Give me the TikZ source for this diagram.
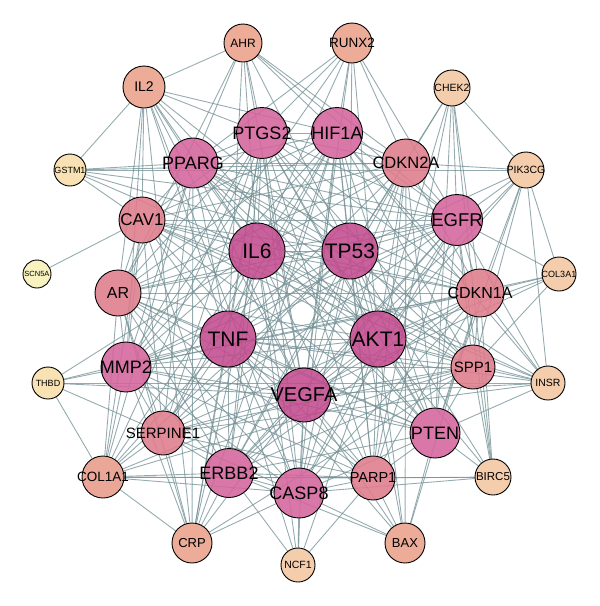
\documentclass[tikz,border=0pt]{standalone}
\usepackage{fontspec}
\setmainfont{Liberation Sans}
\usetikzlibrary{backgrounds}
\definecolor{degA}{HTML}{C24B8E}
\definecolor{degB}{HTML}{D4659C}
\definecolor{degC}{HTML}{DE7C8C}
\definecolor{degD}{HTML}{E9A08A}
\definecolor{degE}{HTML}{F3C6A2}
\definecolor{degF}{HTML}{F7DDA8}
\definecolor{degG}{HTML}{F7F0B7}
\definecolor{edgecol}{HTML}{728F94}
\begin{document}
\begin{tikzpicture}[x=1pt, y=-1pt,
  gene/.style={circle, draw=black, line width=0.9pt, inner sep=0pt, fill opacity=0.88},
  lvA/.style={gene, fill=degA, minimum size=56pt},
  lvB/.style={gene, fill=degB, minimum size=51pt},
  lvC/.style={gene, fill=degC, minimum size=46pt},
  lvD/.style={gene, fill=degD, minimum size=40pt},
  lvE/.style={gene, fill=degE, minimum size=35pt},
  lvF/.style={gene, fill=degF, minimum size=32pt},
  lbl/.style={font=\fontsize{#1}{#1}\selectfont, text=black, text opacity=1, fill opacity=1, inner sep=0pt},
  edge/.style={draw=edgecol, line width=0.9pt, opacity=0.75}]
  \useasboundingbox (0,0) rectangle (600,606);

  % inner ring
  \node[lvA, label={[lbl=21]center:IL6}] (IL6) at (257,251) {};
  \node[lvA, label={[lbl=21]center:TP53}] (TP53) at (350,251) {};
  \node[lvA, label={[lbl=21]center:TNF}] (TNF) at (228,339) {};
  \node[lvA, label={[lbl=21]center:AKT1}] (AKT1) at (378,339) {};
  \node[lvA, minimum size=54pt, label={[lbl=20]center:VEGFA}] (VEGFA) at (304,395) {};

  % middle ring
  \node[lvB, label={[lbl=18]center:PTGS2}] (PTGS2) at (262,133) {};
  \node[lvB, label={[lbl=18]center:HIF1A}] (HIF1A) at (337,133) {};
  \node[lvC, minimum size=48pt, label={[lbl=16.5]center:CDKN2A}] (CDKN2A) at (406,163) {};
  \node[lvB, label={[lbl=18.5]center:EGFR}] (EGFR) at (457,220) {};
  \node[lvC, minimum size=48pt, label={[lbl=16]center:CDKN1A}] (CDKN1A) at (480,293) {};
  \node[lvC, minimum size=44pt, label={[lbl=15]center:SPP1}] (SPP1) at (473,367) {};
  \node[lvB, minimum size=50pt, label={[lbl=18]center:PTEN}] (PTEN) at (435,433) {};
  \node[lvC, minimum size=44pt, label={[lbl=14.5]center:PARP1}] (PARP1) at (373,478) {};
  \node[lvB, minimum size=50pt, label={[lbl=18]center:CASP8}] (CASP8) at (299,493) {};
  \node[lvB, minimum size=49pt, label={[lbl=18]center:ERBB2}] (ERBB2) at (229,473) {};
  \node[lvC, minimum size=44pt, label={[lbl=15]center:SERPINE1}] (SERPINE1) at (163,433) {};
  \node[lvB, minimum size=50pt, label={[lbl=18]center:MMP2}] (MMP2) at (126,367) {};
  \node[lvC, label={[lbl=16]center:AR}] (AR) at (118,293) {};
  \node[lvC, label={[lbl=17]center:CAV1}] (CAV1) at (142,220) {};
  \node[lvB, minimum size=50pt, label={[lbl=18]center:PPARG}] (PPARG) at (193,163) {};

  % outer ring
  \node[lvD, minimum size=38pt, label={[lbl=12]center:AHR}] (AHR) at (243,43) {};
  \node[lvD, label={[lbl=13.5]center:RUNX2}] (RUNX2) at (352,43) {};
  \node[lvE, minimum size=36pt, label={[lbl=10.5]center:CHEK2}] (CHEK2) at (452,88) {};
  \node[lvE, minimum size=36pt, label={[lbl=10.5]center:PIK3CG}] (PIK3CG) at (526,170) {};
  \node[lvE, minimum size=34pt, label={[lbl=9]center:COL3A1}] (COL3A1) at (559,274) {};
  \node[lvE, minimum size=34pt, label={[lbl=10.5]center:INSR}] (INSR) at (548,383) {};
  \node[lvE, minimum size=36pt, label={[lbl=11.5]center:BIRC5}] (BIRC5) at (493,477) {};
  \node[lvD, label={[lbl=13]center:BAX}] (BAX) at (405,543) {};
  \node[lvE, minimum size=34pt, label={[lbl=10.5]center:NCF1}] (NCF1) at (298,565) {};
  \node[lvD, label={[lbl=13]center:CRP}] (CRP) at (192,543) {};
  \node[lvD, minimum size=42pt, fill=degD!85!degC, label={[lbl=13.5]center:COL1A1}] (COL1A1) at (103,477) {};
  \node[lvF, label={[lbl=9]center:THBD}] (THBD) at (48,383) {};
  \node[lvF, fill=degG, minimum size=28pt, label={[lbl=7.5]center:SCN5A}] (SCN5A) at (37,274) {};
  \node[lvF, label={[lbl=9]center:GSTM1}] (GSTM1) at (70,170) {};
  \node[lvD, minimum size=42pt, label={[lbl=14]center:IL2}] (IL2) at (144,87) {};

  \begin{pgfonlayer}{background}
    \foreach \t in {TP53,TNF,AKT1,VEGFA,PTGS2,HIF1A,PPARG,EGFR,MMP2,PTEN,ERBB2,CASP8,CDKN2A,CAV1,AR,CDKN1A,SPP1,SERPINE1,PARP1,IL2,AHR,RUNX2,COL1A1,CRP,GSTM1,THBD,INSR,NCF1}
      \draw[edge] (IL6) -- (\t);
    \foreach \t in {TNF,AKT1,VEGFA,PTGS2,HIF1A,PPARG,EGFR,MMP2,PTEN,ERBB2,CASP8,CDKN2A,CAV1,AR,CDKN1A,SPP1,SERPINE1,PARP1,IL2,AHR,RUNX2,BAX,CHEK2,BIRC5,PIK3CG,GSTM1,COL1A1}
      \draw[edge] (TP53) -- (\t);
    \foreach \t in {AKT1,VEGFA,PTGS2,HIF1A,PPARG,EGFR,MMP2,PTEN,ERBB2,CASP8,CDKN2A,CAV1,AR,CDKN1A,SPP1,SERPINE1,PARP1,IL2,AHR,COL1A1,CRP,NCF1,THBD,BAX,INSR}
      \draw[edge] (TNF) -- (\t);
    \foreach \t in {VEGFA,PTGS2,HIF1A,PPARG,EGFR,MMP2,PTEN,ERBB2,CASP8,CDKN2A,CAV1,AR,CDKN1A,SPP1,SERPINE1,PARP1,IL2,RUNX2,CHEK2,PIK3CG,INSR,BIRC5,BAX,NCF1,COL3A1}
      \draw[edge] (AKT1) -- (\t);
    \foreach \t in {PTGS2,HIF1A,PPARG,EGFR,MMP2,PTEN,ERBB2,CASP8,CDKN2A,CAV1,AR,CDKN1A,SPP1,SERPINE1,PARP1,IL2,AHR,RUNX2,COL1A1,CRP,NCF1,THBD,INSR,COL3A1,BAX,PIK3CG}
      \draw[edge] (VEGFA) -- (\t);
    \foreach \t in {HIF1A,PPARG,EGFR,MMP2,PTEN,ERBB2,CASP8,CDKN2A,CAV1,AR,CDKN1A,SPP1,SERPINE1,PARP1,IL2,AHR,RUNX2,CRP,COL1A1}
      \draw[edge] (PTGS2) -- (\t);
    \foreach \t in {PPARG,EGFR,MMP2,PTEN,ERBB2,CASP8,CDKN2A,CAV1,AR,CDKN1A,SPP1,SERPINE1,PARP1,AHR,RUNX2,IL2,INSR,CRP}
      \draw[edge] (HIF1A) -- (\t);
    \foreach \t in {EGFR,MMP2,PTEN,CDKN2A,CAV1,AR,CDKN1A,SPP1,SERPINE1,IL2,AHR,RUNX2,GSTM1,INSR,COL1A1,CRP}
      \draw[edge] (PPARG) -- (\t);
    \foreach \t in {MMP2,PTEN,ERBB2,CASP8,CDKN2A,CAV1,AR,CDKN1A,SPP1,SERPINE1,PARP1,RUNX2,AHR,CHEK2,PIK3CG,COL3A1,INSR,BIRC5,GSTM1}
      \draw[edge] (EGFR) -- (\t);
    \foreach \t in {PTEN,ERBB2,CASP8,CAV1,AR,CDKN1A,SPP1,SERPINE1,PARP1,IL2,COL1A1,THBD,CRP,COL3A1,RUNX2}
      \draw[edge] (MMP2) -- (\t);
    \foreach \t in {ERBB2,CASP8,CDKN2A,CAV1,AR,CDKN1A,SPP1,PARP1,BIRC5,BAX,INSR,PIK3CG,CHEK2}
      \draw[edge] (PTEN) -- (\t);
    \foreach \t in {CASP8,CDKN2A,CAV1,AR,CDKN1A,SPP1,SERPINE1,PARP1,COL1A1,CRP,BAX,NCF1}
      \draw[edge] (ERBB2) -- (\t);
    \foreach \t in {CDKN2A,AR,CDKN1A,PARP1,SERPINE1,BAX,BIRC5,NCF1,CRP,COL1A1,IL2}
      \draw[edge] (CASP8) -- (\t);
    \foreach \t in {CAV1,AR,CDKN1A,PARP1,RUNX2,AHR,CHEK2,PIK3CG,BAX,GSTM1}
      \draw[edge] (CDKN2A) -- (\t);
    \foreach \t in {AR,CDKN1A,SPP1,SERPINE1,IL2,GSTM1,SCN5A,COL1A1,INSR}
      \draw[edge] (CAV1) -- (\t);
    \foreach \t in {CDKN1A,SERPINE1,PARP1,IL2,AHR,CRP,COL1A1}
      \draw[edge] (AR) -- (\t);
    \foreach \t in {SPP1,PARP1,CHEK2,PIK3CG,COL3A1,INSR,BIRC5,BAX}
      \draw[edge] (CDKN1A) -- (\t);
    \foreach \t in {SERPINE1,COL1A1,COL3A1,INSR,BIRC5,PIK3CG,CRP}
      \draw[edge] (SPP1) -- (\t);
    \foreach \t in {PARP1,COL1A1,THBD,CRP,INSR}
      \draw[edge] (SERPINE1) -- (\t);
    \foreach \t in {BIRC5,BAX,CHEK2,NCF1,COL1A1}
      \draw[edge] (PARP1) -- (\t);
    \foreach \t in {AHR,GSTM1,CRP}
      \draw[edge] (IL2) -- (\t);
    \foreach \t in {PIK3CG,BIRC5}
      \draw[edge] (CHEK2) -- (\t);
    \foreach \t in {COL3A1,INSR}
      \draw[edge] (PIK3CG) -- (\t);
    \foreach \t in {THBD,CRP,BIRC5}
      \draw[edge] (COL1A1) -- (\t);
    \draw[edge] (THBD) -- (INSR);
    \draw[edge] (GSTM1) -- (PIK3CG);
  \end{pgfonlayer}
\end{tikzpicture}
\end{document}
